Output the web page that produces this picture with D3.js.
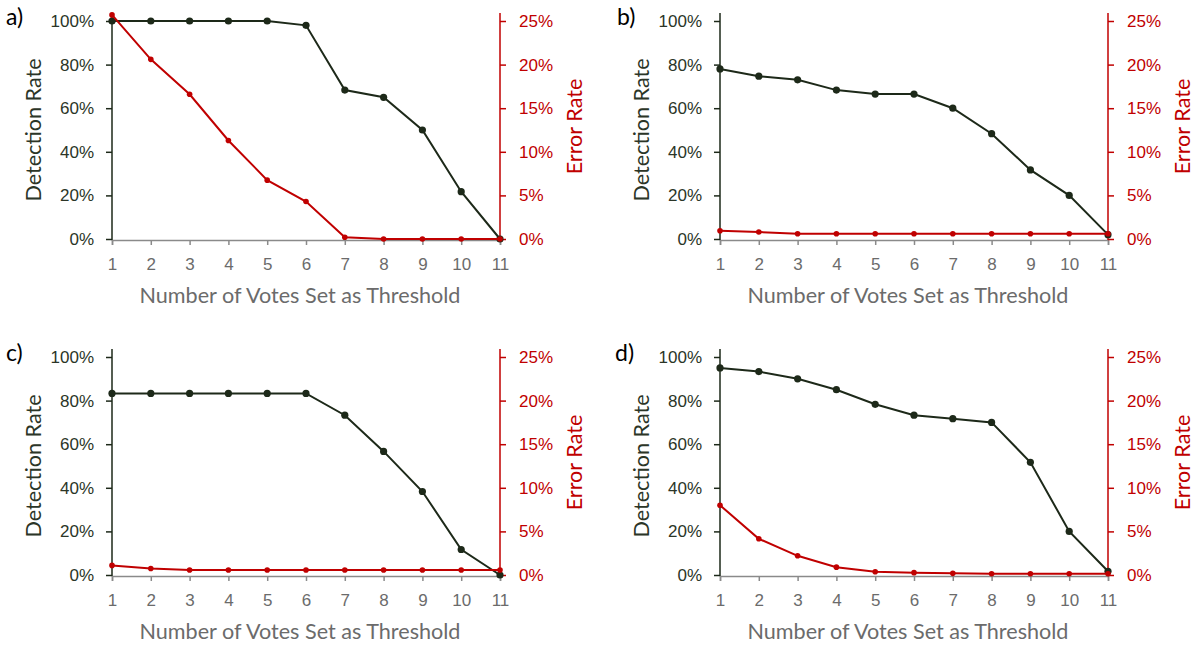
<!DOCTYPE html>
<html>
<head>
<meta charset="utf-8">
<script src="https://cdn.jsdelivr.net/npm/d3@7"></script>
<style>
  html, body { margin: 0; padding: 0; background: #fff; }
  svg { display: block; font-family: Lato, "Open Sans", sans-serif; }
</style>
</head>
<body>
<svg id="chart" width="1195" height="648"></svg>
<script>
// Vote threshold on the x axis
const categories = [1, 2, 3, 4, 5, 6, 7, 8, 9, 10, 11];

// Detection rate (%) and error rate (%) for each panel
const detectionA = [100, 100, 100, 100, 100, 98, 68.3, 65, 50, 21.7, 0];
const errorA     = [25.7, 20.6, 16.6, 11.3, 6.75, 4.3, 0.2, 0, 0, 0, 0];
const detectionB = [78, 74.7, 73, 68.3, 66.5, 66.5, 60, 48.3, 31.7, 20, 2];
const errorB     = [0.95, 0.8, 0.6, 0.6, 0.6, 0.6, 0.6, 0.6, 0.6, 0.6, 0.6];
const detectionC = [83.3, 83.3, 83.3, 83.3, 83.3, 83.3, 73.3, 56.7, 38.3, 11.7, 0];
const errorC     = [1.1, 0.75, 0.57, 0.57, 0.57, 0.57, 0.57, 0.57, 0.57, 0.57, 0.57];
const detectionD = [95, 93.3, 90, 85, 78.3, 73.3, 71.7, 70, 51.7, 20, 1.7];
const errorD     = [8.0, 4.15, 2.2, 0.9, 0.38, 0.27, 0.19, 0.15, 0.15, 0.15, 0.15];

const panelLabels = ["a)", "b)", "c)", "d)"];
const leftTicks = [0, 20, 40, 60, 80, 100];
const rightTicks = [0, 5, 10, 15, 20, 25];
const xTitle = "Number of Votes Set as Threshold";
const leftTitle = "Detection Rate";
const rightTitle = "Error Rate";

const panels = [
  { label: panelLabels[0], det: detectionA, err: errorA, x: 112, y: 21, lx: 6 },
  { label: panelLabels[1], det: detectionB, err: errorB, x: 720, y: 21, lx: 617 },
  { label: panelLabels[2], det: detectionC, err: errorC, x: 112, y: 357, lx: 6 },
  { label: panelLabels[3], det: detectionD, err: errorD, x: 720, y: 357, lx: 615 }
];

const W = 388, H = 218, OVER = 8;
const DARK = "#1d2919", DARK_TXT = "#2b3527", RED = "#c00000", GRAY = "#8a8a8a", GRAY_TXT = "#6b6b6b";
const TITLE_SIZE = "21.6px", TICK_SIZE = "17px";

const svg = d3.select("#chart");

panels.forEach(p => {
  const g = svg.append("g").attr("transform", `translate(${p.x},${p.y})`);

  const x = d3.scalePoint().domain(categories).range([0, W]);
  const yL = d3.scaleLinear().domain([0, 100]).range([H, 0]);
  const yR = d3.scaleLinear().domain([0, 25]).range([H, 0]);

  // bottom axis
  const xa = g.append("g").attr("transform", `translate(0,${H + 1})`)
    .call(d3.axisBottom(x).tickSizeOuter(0).tickSize(5).tickPadding(13));
  xa.select(".domain").attr("stroke", GRAY).attr("stroke-width", 1.5);
  xa.selectAll(".tick line").attr("stroke", GRAY).attr("stroke-width", 1.5);
  xa.selectAll(".tick text").attr("fill", GRAY_TXT).style("font-size", TICK_SIZE);

  // left axis
  const la = g.append("g")
    .call(d3.axisLeft(yL).tickValues(leftTicks).tickFormat(d => d + "%").tickSizeOuter(0).tickSize(6).tickPadding(12));
  la.select(".domain").remove();
  la.selectAll(".tick line").attr("stroke", DARK).attr("stroke-width", 1.5);
  la.selectAll(".tick text").attr("fill", DARK_TXT).style("font-size", TICK_SIZE);
  g.append("line").attr("x1", 0).attr("x2", 0).attr("y1", -OVER).attr("y2", H + 1)
    .attr("stroke", DARK).attr("stroke-width", 1.5);

  // right axis
  const ra = g.append("g").attr("transform", `translate(${W},0)`)
    .call(d3.axisRight(yR).tickValues(rightTicks).tickFormat(d => d + "%").tickSizeOuter(0).tickSize(6).tickPadding(13));
  ra.select(".domain").remove();
  ra.selectAll(".tick line").attr("stroke", RED).attr("stroke-width", 1.5);
  ra.selectAll(".tick text").attr("fill", RED).style("font-size", TICK_SIZE);
  g.append("line").attr("x1", W).attr("x2", W).attr("y1", -OVER).attr("y2", H + 1)
    .attr("stroke", RED).attr("stroke-width", 1.5);

  // axis titles
  g.append("text").attr("x", W / 2 - 6).attr("y", H + 64)
    .attr("text-anchor", "middle").attr("fill", GRAY_TXT).style("font-size", TITLE_SIZE).text(xTitle);
  g.append("text").attr("transform", `translate(-71,${H / 2}) rotate(-90)`)
    .attr("text-anchor", "middle").attr("fill", DARK_TXT).style("font-size", TITLE_SIZE).text(leftTitle);
  g.append("text").attr("transform", `translate(${W + 82},${H / 2 - 3.5}) rotate(-90)`)
    .attr("text-anchor", "middle").attr("fill", RED).style("font-size", TITLE_SIZE).text(rightTitle);

  // panel letter
  g.append("text").attr("x", p.lx - p.x).attr("y", 4)
    .attr("fill", "#000").style("font-size", "23px").text(p.label);

  // detection rate series
  const lineL = d3.line().x((d, i) => x(categories[i])).y(d => yL(d));
  g.append("path").datum(p.det).attr("d", lineL)
    .attr("fill", "none").attr("stroke", DARK).attr("stroke-width", 2);
  g.selectAll(".dd").data(p.det).join("circle")
    .attr("cx", (d, i) => x(categories[i])).attr("cy", d => yL(d)).attr("r", 3.6).attr("fill", DARK);

  // error rate series
  const lineR = d3.line().x((d, i) => x(categories[i])).y(d => yR(d));
  g.append("path").datum(p.err).attr("d", lineR)
    .attr("fill", "none").attr("stroke", RED).attr("stroke-width", 2);
  g.selectAll(".ed").data(p.err).join("circle")
    .attr("cx", (d, i) => x(categories[i])).attr("cy", d => yR(d)).attr("r", 2.8).attr("fill", RED);
});
</script>
</body>
</html>
